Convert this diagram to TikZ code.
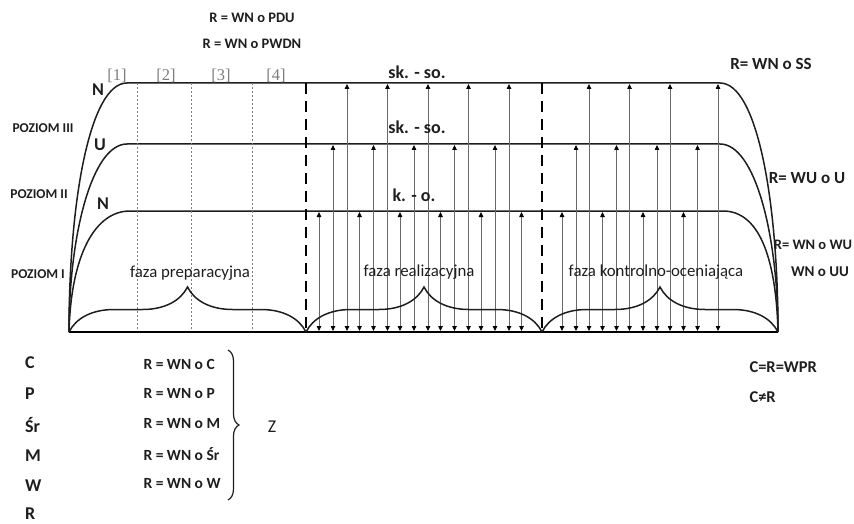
\documentclass[tikz,border=0pt]{standalone}
\usepackage{fontspec}
\setmainfont{Carlito}
\newfontfamily\bracketfont{Liberation Serif}
\usetikzlibrary{arrows.meta, decorations.pathreplacing}
\definecolor{inkgray}{RGB}{30,30,30}
\definecolor{shaftgray}{RGB}{105,105,105}
\definecolor{guidegray}{RGB}{125,125,125}

\tikzset{
    level/.style={draw=inkgray, line width=1.5pt},
    phaseline/.style={draw=black, line width=1.9pt, dash pattern=on 11pt off 7pt},
    guide/.style={draw=guidegray, line width=0.6pt, dash pattern=on 2pt off 2pt},
    link/.style={draw=shaftgray, line width=0.8pt,
        {Triangle[width=4.5pt,length=5pt,color=black]}-{Triangle[width=4.5pt,length=5pt,color=black]}},
    formula/.style={font=\bfseries\fontsize{14.5}{16}\selectfont, text=inkgray},
    sidelabel/.style={font=\bfseries\fontsize{17}{19}\selectfont, text=inkgray},
    poziom/.style={font=\bfseries\fontsize{13.5}{15}\selectfont, text=inkgray},
    phasename/.style={font=\fontsize{16.8}{19}\selectfont, text=inkgray},
    marker/.style={font=\bfseries\fontsize{18}{20}\selectfont, text=inkgray},
    stepnum/.style={font=\bracketfont\fontsize{16.5}{18}\selectfont, text=guidegray},
    letter/.style={font=\bfseries\fontsize{18}{20}\selectfont, text=inkgray, anchor=west, inner sep=0pt},
    rule/.style={font=\bfseries\fontsize{15.5}{17}\selectfont, text=inkgray, anchor=west}
}

\begin{document}
\begin{tikzpicture}[x=1pt, y=-1pt]
    \useasboundingbox (0,0) rectangle (854,524);

    % levels
    \draw[level] (69,332) .. controls (69,200) and (90,83) .. (127,83)
        -- (720,83) .. controls (757,83) and (778,200) .. (778,332);
    \draw[level] (69,332) .. controls (69,235) and (92,144) .. (127,144)
        -- (720,144) .. controls (755,144) and (778,235) .. (778,332);
    \draw[level] (69,332) .. controls (71,255) and (95,211) .. (130,211)
        -- (723,211) .. controls (758,211) and (776,255) .. (778,332);

    % guides and phase limits
    \foreach \gx in {137,191,252}
        \draw[guide] (\gx,83) -- (\gx,332);
    \draw[phaseline] (306,83) -- (306,332);
    \draw[phaseline] (542,83) -- (542,332);

    % interactions
    \foreach \ax in {319,359.5,400,440.5,481,521.5,562,602.5,643,683.5}
        \draw[link] (\ax,212) -- (\ax,331);
    \foreach \ax in {333,373.5,414,454.5,495,576,616.5,657,697.5}
        \draw[link] (\ax,145) -- (\ax,331);
    \foreach \ax in {347,387.5,428,468.5,509,589,629.5,670,718}
        \draw[link] (\ax,84) -- (\ax,331);

    \draw[line width=2.2pt] (69,332) -- (778,332);

    % phases
    \draw[level, decorate, decoration={brace, amplitude=45pt, aspect=0.5}]
        (69,332) -- (306,332);
    \draw[level, decorate, decoration={brace, amplitude=45pt, aspect=0.5}]
        (306,332) -- (542,332);
    \draw[level, decorate, decoration={brace, amplitude=45pt, aspect=0.5}]
        (542,332) -- (778,332);

    \node[phasename] (prep) at (190,273) {faza preparacyjna};
    \node[phasename] (real) at (419,272) {faza realizacyjna};
    \node[phasename] (kontr) at (656,272) {faza kontrolno-oceniająca};

    % labels
    \node[formula] (pdu) at (252,18) {R = WN o PDU};
    \node[formula] (pwdn) at (252,44) {R = WN o PWDN};
    \node[stepnum] (s1) at (117,76) {[1]};
    \node[stepnum] (s2) at (166,76) {[2]};
    \node[stepnum] (s3) at (221,76) {[3]};
    \node[stepnum] (s4) at (276,76) {[4]};
    \node[marker] (ntop) at (98,90) {N};
    \node[marker] (umid) at (100,145) {U};
    \node[marker] (nlow) at (103,204) {N};
    \node[poziom] (p3) at (43,128) {POZIOM III};
    \node[poziom] (p2) at (39,194) {POZIOM II};
    \node[poziom] (p1) at (38,274) {POZIOM I};
    \node[marker] (sk1) at (417,72) {sk. - so.};
    \node[marker] (sk2) at (417,127) {sk. - so.};
    \node[marker] (ko) at (414,195) {k. - o.};
    \node[sidelabel] (rss) at (771,64) {R= WN o SS};
    \node[sidelabel] (ru) at (807,178) {R= WU o U};
    \node[sidelabel, font=\bfseries\fontsize{14.5}{16}\selectfont, inner sep=1pt] (rwu) at (813,245) {R= WN o WU};
    \node[sidelabel, font=\bfseries\fontsize{15}{17}\selectfont] (ruu) at (820,272) {WN o UU};

    % components
    \node[letter] (c) at (25,363) {C};
    \node[letter] (p) at (25,394) {P};
    \node[letter] (sr) at (25,425) {Śr};
    \node[letter] (m) at (25,456) {M};
    \node[letter] (w) at (25,486) {W};
    \node[letter] (r) at (25,514) {R};
    \node[rule] (rc) at (140,364) {R = WN o C};
    \node[rule] (rp) at (140,394) {R = WN o P};
    \node[rule] (rm) at (140,424) {R = WN o M};
    \node[rule] (rsr) at (140,454) {R = WN o Śr};
    \node[rule] (rw) at (140,484) {R = WN o W};
    \draw[line width=1.2pt, inkgray, decorate, decoration={brace, amplitude=11pt}]
        (228,350) -- (228,500);
    \node[font=\fontsize{18}{20}\selectfont, text=inkgray] (z) at (272,427) {Z};
    \node[rule, font=\bfseries\fontsize{16.5}{18}\selectfont] (wpr) at (746,367) {C=R=WPR};
    \node[rule, font=\bfseries\fontsize{16.5}{18}\selectfont] (cnr) at (746,397) {C≠R};
\end{tikzpicture}
\end{document}
